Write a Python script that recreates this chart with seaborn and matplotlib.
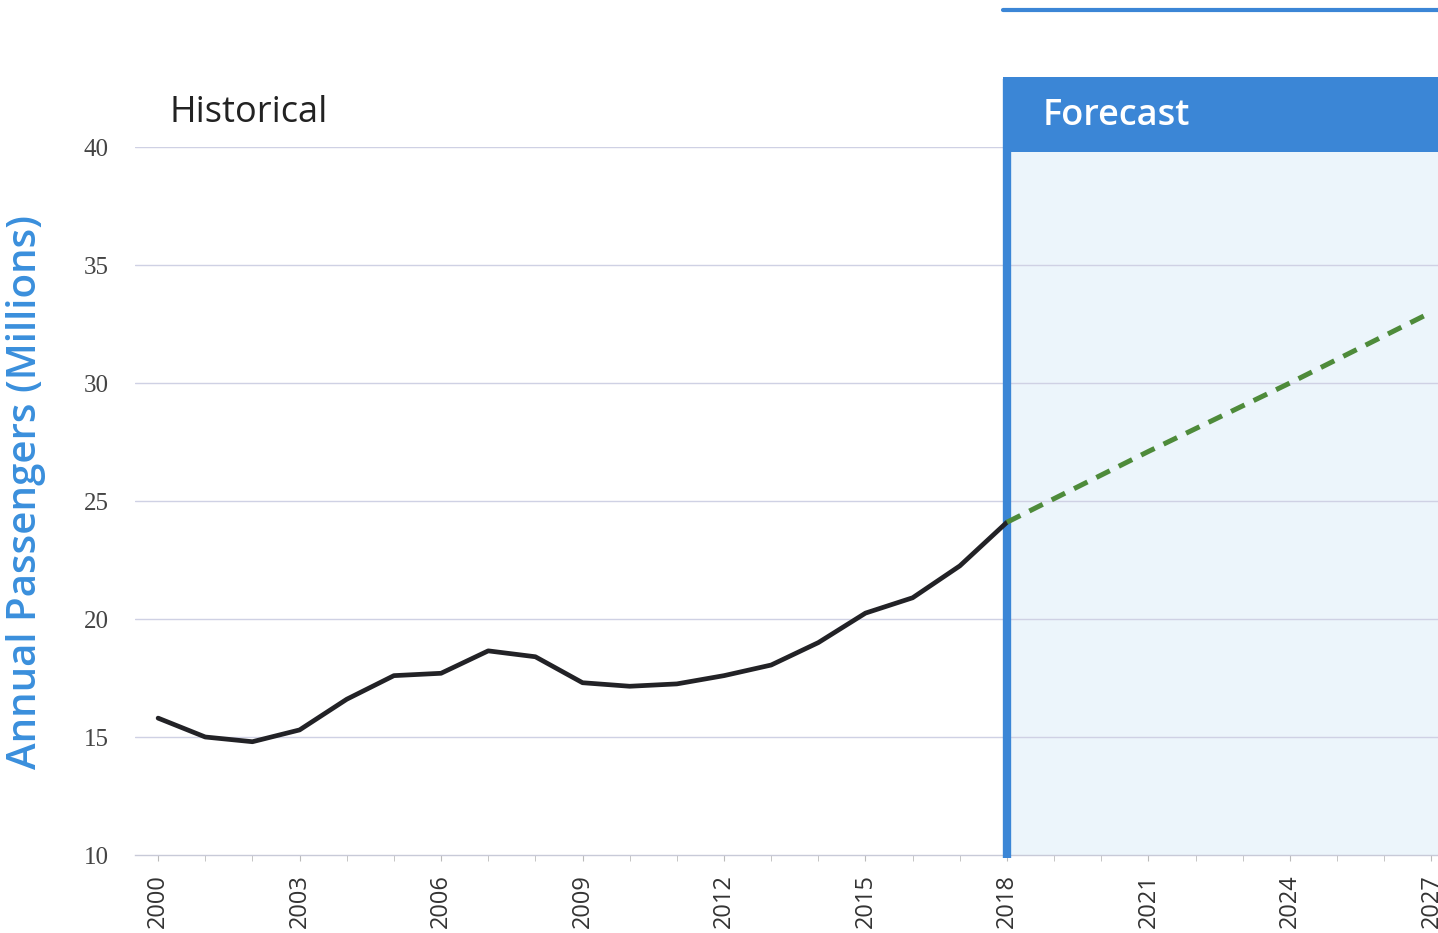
import numpy as np
import pandas as pd
import matplotlib
matplotlib.use('Agg')
import matplotlib.pyplot as plt
from matplotlib.patches import Rectangle
from matplotlib.ticker import MultipleLocator
import seaborn as sns

# values
hist_years = [2000, 2001, 2002, 2003, 2004, 2005, 2006, 2007, 2008, 2009,
              2010, 2011, 2012, 2013, 2014, 2015, 2016, 2017, 2018]
hist_passengers = [15.8, 15.0, 14.8, 15.3, 16.6, 17.6, 17.7, 18.65, 18.4, 17.3,
                   17.15, 17.25, 17.6, 18.05, 19.0, 20.25, 20.9, 22.25, 24.1]
forecast_years = [2018, 2021, 2024, 2027]
forecast_passengers = [24.1, 27.1, 30.0, 33.0]
year_ticks = [2000, 2003, 2006, 2009, 2012, 2015, 2018, 2021, 2024, 2027]
value_ticks = [10, 15, 20, 25, 30, 35, 40]

BLUE = '#3b86d6'
SHADE = '#ecf5fb'
GRID = '#cfd1e4'

sns.set_style('white')
plt.rcParams['font.family'] = ['Open Sans', 'DejaVu Sans']

hist = pd.DataFrame({'year': hist_years, 'passengers': hist_passengers})
fc = pd.DataFrame({'year': forecast_years, 'passengers': forecast_passengers})

fig = plt.figure(figsize=(14.38, 9.33), dpi=100)
ax = fig.add_axes([135 / 1438, 78 / 933, 1 - 135 / 1438, (855 - 147) / 933])

ax.set_xlim(1999.51, 2027.14)
ax.set_ylim(10, 40)

# forecast shading + frame
ax.axvspan(2018, 2030, ymin=-0.004, ymax=0.993, color=SHADE, zorder=0, lw=0)
ax.add_patch(Rectangle((2017.92, 39.8), 12, 3.18, color=BLUE, clip_on=False, zorder=3, lw=0))
ax.plot([2018, 2018], [9.87, 42.9], color=BLUE, lw=6, clip_on=False, zorder=3,
        solid_capstyle='butt')
ax.plot([2017.92, 2030], [45.8, 45.8], color=BLUE, lw=3, clip_on=False, zorder=3)

for v in value_ticks[1:]:
    ax.axhline(v, color=GRID, lw=1, zorder=1)

sns.lineplot(data=hist, x='year', y='passengers', ax=ax, color='#222226', lw=3.4, zorder=4)
sns.lineplot(data=fc, x='year', y='passengers', ax=ax, color='#4e8b3a', lw=3.6,
             zorder=4, linestyle=(0, (3, 2)))

ax.text(2000.25, 41.45, 'Historical', fontsize=26, color='#222222', va='center', ha='left')
ax.text(2018.75, 41.3, 'Forecast', fontsize=26, color='white', fontweight='semibold',
        va='center', ha='left', zorder=5)

for s in ['top', 'right', 'left']:
    ax.spines[s].set_visible(False)
ax.spines['bottom'].set_color('#c8cad8')
ax.spines['bottom'].set_linewidth(1)

ax.set_xticks(year_ticks)
ax.set_xticklabels([str(y) for y in year_ticks], rotation=90, fontsize=17, color='#333333')
ax.xaxis.set_minor_locator(MultipleLocator(1))
ax.tick_params(axis='x', which='both', direction='out', length=4, color='#bbbbbb',
               bottom=True, pad=10)
ax.set_yticks(value_ticks)
ax.set_yticklabels([str(v) for v in value_ticks], fontsize=18, color='#444444',
                   family=['Liberation Serif', 'DejaVu Serif'])
ax.tick_params(axis='y', length=0, pad=19)

ax.set_xlabel('')
ax.set_ylabel('Annual Passengers (Millions)', fontsize=29, color='#3a8fdc',
              fontweight='semibold')
ax.yaxis.set_label_coords(-0.068, 0.513)

fig.savefig('out.png', dpi=100)
